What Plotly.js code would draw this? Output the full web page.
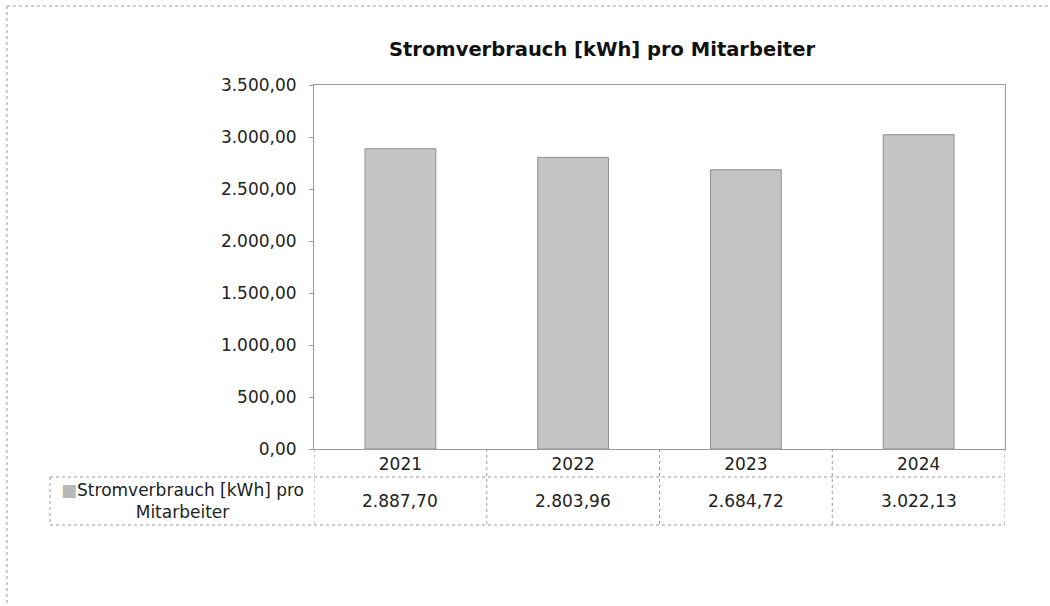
<!DOCTYPE html>
<html>
<head>
<meta charset="utf-8">
<script src="https://cdn.plot.ly/plotly-3.0.1.min.js"></script>
<style>
  html, body { margin: 0; padding: 0; background: #ffffff; }
  #chart { width: 1050px; height: 606px; }
</style>
</head>
<body>
<div id="chart"></div>
<script>
// ---- data ----
const years = ['2021', '2022', '2023', '2024'];
const values = [2887.70, 2803.96, 2684.72, 3022.13];
const seriesName = 'Stromverbrauch [kWh] pro Mitarbeiter';
const chartTitle = 'Stromverbrauch [kWh] pro Mitarbeiter';
const yTickVals = [0, 500, 1000, 1500, 2000, 2500, 3000, 3500];

// ---- layout geometry (pixels) ----
const W = 1050, H = 606;
const PL = 314, PR = 1005, PT = 85, PB = 449;
const pw = PR - PL, ph = PB - PT;
const px = v => (v - PL) / pw;      // pixel x -> paper x
const py = v => (PB - v) / ph;      // pixel y -> paper y

const FONT = 'DejaVu Sans, Verdana, sans-serif';
const LINE = '#9a9a9a';

function fmtDE(v) {
  const s = v.toFixed(2).split('.');
  return s[0].replace(/\B(?=(\d{3})+(?!\d))/g, '.') + ',' + s[1];
}

const trace = {
  type: 'bar',
  x: years,
  y: values,
  name: seriesName,
  marker: { color: '#c4c4c4', line: { color: '#8f8f8f', width: 1 } },
  width: 0.41,
  hoverinfo: 'skip'
};

const ROW1 = 477, ROW2 = 525, LEGL = 50;
const shapes = [];
const dot = { color: LINE, width: 1, dash: 'dot' };
// outer frame (left and top)
shapes.push({ type: 'line', xref: 'paper', yref: 'paper', x0: px(7), x1: px(7), y0: py(6), y1: py(640), line: dot });
shapes.push({ type: 'line', xref: 'paper', yref: 'paper', x0: px(7), x1: px(1060), y0: py(6), y1: py(6), line: dot });
// table horizontal lines
shapes.push({ type: 'line', xref: 'paper', yref: 'paper', x0: px(LEGL), x1: 1, y0: py(ROW1), y1: py(ROW1), line: dot });
shapes.push({ type: 'line', xref: 'paper', yref: 'paper', x0: px(LEGL), x1: 1, y0: py(ROW2), y1: py(ROW2), line: dot });
// legend cell left edge
shapes.push({ type: 'line', xref: 'paper', yref: 'paper', x0: px(LEGL), x1: px(LEGL), y0: py(ROW1), y1: py(ROW2), line: dot });
// table vertical lines at category borders
for (let i = 0; i <= years.length; i++) {
  shapes.push({ type: 'line', xref: 'x', yref: 'paper', x0: i - 0.5, x1: i - 0.5, y0: 0, y1: py(ROW2), line: dot });
}

const annotations = [];
// value row (category index positions on the x axis)
years.forEach((yr, i) => {
  annotations.push({
    xref: 'x', yref: 'paper', x: i, y: py((ROW1 + ROW2) / 2),
    text: fmtDE(values[i]), showarrow: false, xanchor: 'center', yanchor: 'middle',
    font: { family: FONT, size: 17, color: '#222' }
  });
});
// legend cell
annotations.push({
  xref: 'paper', yref: 'paper', x: px((LEGL + PL) / 2), y: py((ROW1 + ROW2) / 2),
  text: '<span style="color:#b8b8b8">■</span>' + 'Stromverbrauch [kWh] pro<br>Mitarbeiter',
  showarrow: false, xanchor: 'center', yanchor: 'middle', align: 'center',
  font: { family: FONT, size: 17, color: '#222' }
});

const layout = {
  width: W, height: H,
  margin: { l: PL, r: W - PR, t: PT, b: H - PB, pad: 0 },
  paper_bgcolor: '#ffffff', plot_bgcolor: '#ffffff',
  separators: ',.',
  showlegend: false,
  title: {
    text: '<b>' + chartTitle + '</b>',
    font: { family: FONT, size: 19.5, color: '#111' },
    x: 602 / W, xanchor: 'center', xref: 'container',
    y: 1 - 49 / H, yanchor: 'middle', yref: 'container'
  },
  xaxis: {
    type: 'category',
    range: [-0.5, years.length - 0.5],
    showgrid: false, zeroline: false,
    showline: true, linecolor: LINE, linewidth: 1, mirror: true,
    ticks: '', tickfont: { family: FONT, size: 17, color: '#222' },
    ticklabelstandoff: 0,
    fixedrange: true
  },
  yaxis: {
    range: [0, 3500],
    tickvals: yTickVals,
    tickformat: ',.2f',
    showgrid: false, zeroline: false,
    showline: true, linecolor: LINE, linewidth: 1, mirror: true,
    ticks: 'outside', ticklen: 4, tickcolor: LINE,
    ticklabelstandoff: 9,
    tickfont: { family: FONT, size: 17, color: '#222' },
    fixedrange: true
  },
  shapes: shapes,
  annotations: annotations
};

Plotly.newPlot('chart', [trace], layout, { displayModeBar: false, staticPlot: true });
</script>
</body>
</html>
